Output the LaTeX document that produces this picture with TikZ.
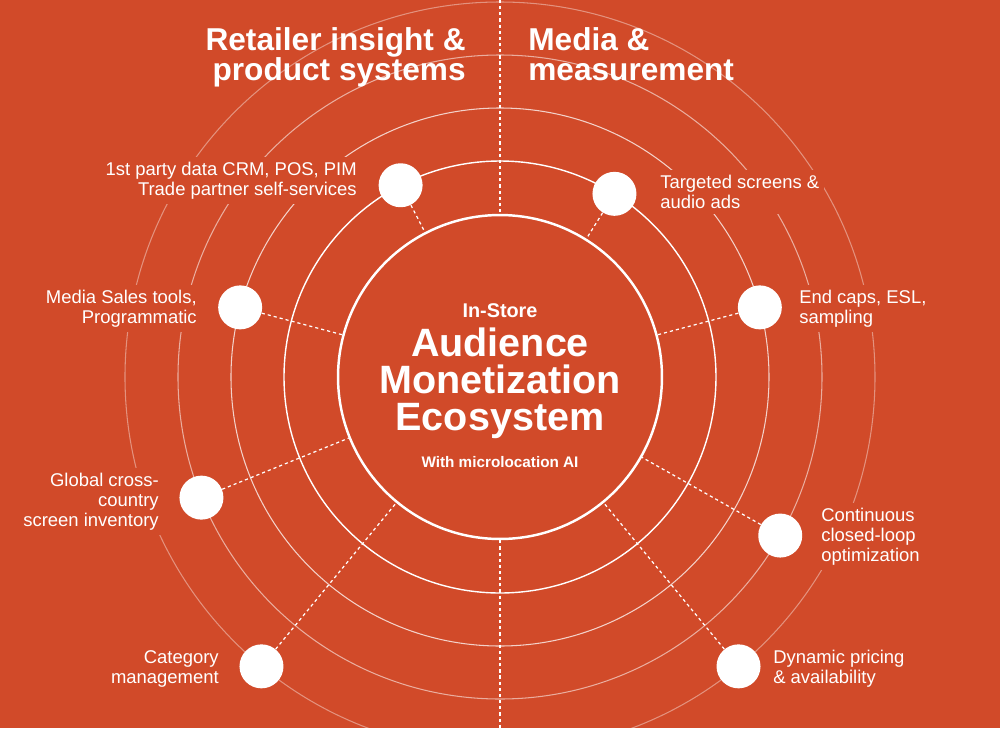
\documentclass[tikz,border=0pt]{standalone}
\usepackage{fontspec}
\setmainfont{Liberation Sans}
\usepackage{tikz}
\usetikzlibrary{positioning}
\definecolor{bgOrange}{HTML}{D14A29}
\colorlet{ringwhite}{white}

\begin{document}
\begin{tikzpicture}[x=0.02cm, y=0.02cm,
    dot/.style={circle, fill=white, minimum size=0.88cm, inner sep=0pt},
    lbl/.style={fill=bgOrange, text=white, inner sep=2.8pt, font=\fontsize{10.5}{11.3}\selectfont},
    link/.style={white, line width=0.7pt, dash pattern=on 1.8pt off 1.7pt},
    ttl/.style={text=white, inner sep=0pt, font=\bfseries\fontsize{18}{17}\selectfont}]
  % background and frame
  \fill[bgOrange] (-500, -351) rectangle (500, 377);
  \useasboundingbox (-500, -351) rectangle (500, 377);
  \clip (-500, -351) rectangle (500, 377);
  % rings
  \foreach \r/\o/\w in {216/1/0.8pt, 269/0.75/0.6pt, 322/0.55/0.6pt, 375/0.4/0.6pt} {
    \draw[ringwhite, opacity=\o, line width=\w] (0, 0) circle (\r);
  }
  % labels
  \node[lbl, anchor=north east, align=right] (l1) at (-138, 220) {1st party data CRM, POS, PIM\\Trade partner self-services};
  \node[lbl, anchor=north east, align=right] (l2) at (-298, 92) {Media Sales tools,\\Programmatic};
  \node[lbl, anchor=north east, align=right] (l3) at (-336, -91) {Global cross-\\country\\screen inventory};
  \node[lbl, anchor=north east, align=right] (l4) at (-276, -268) {Category\\management};
  \node[lbl, anchor=north west, align=left] (l5) at (155, 207) {Targeted screens \&\\audio ads};
  \node[lbl, anchor=north west, align=left] (l6) at (294, 92) {End caps, ESL,\\sampling};
  \node[lbl, anchor=north west, align=left] (l7) at (316, -126) {Continuous\\closed-loop\\optimization};
  \node[lbl, anchor=north west, align=left] (l8) at (268, -268) {Dynamic pricing\\\& availability};
  % hub
  \node[circle, draw=white, line width=1.4pt, minimum size=6.48cm, inner sep=0pt] (hub) at (0, 0) {};
  \coordinate (top) at (0, 377);
  \coordinate (bot) at (0, -351);
  \draw[link] (top) -- (hub.north);
  \draw[link] (hub.south) -- (bot);
  % dots
  \node[dot] (d1) at (117.4:216) {};
  \node[dot] (d2) at (165:269) {};
  \node[dot] (d3) at (202:322) {};
  \node[dot] (d4) at (230.5:375) {};
  \node[dot] (d5) at (58:216) {};
  \node[dot] (d6) at (15:269) {};
  \node[dot] (d7) at (-29.5:322) {};
  \node[dot] (d8) at (-50.5:375) {};
  \foreach \d in {d1, d2, d3, d4, d5, d6, d7, d8} {
    \draw[link] (\d) -- (hub);
  }
  % hub text
  \node[text=white, anchor=base, font=\bfseries\fontsize{11.3}{11.3}\selectfont] (instore) at (0, 60) {In-Store};
  \node[text=white, anchor=base, font=\bfseries\fontsize{22.5}{22}\selectfont] (aud) at (0, 21) {Audience};
  \node[text=white, anchor=base, font=\bfseries\fontsize{22.5}{22}\selectfont] (mon) at (0, -16) {Monetization};
  \node[text=white, anchor=base, font=\bfseries\fontsize{22.5}{22}\selectfont] (eco) at (0, -53) {Ecosystem};
  \node[text=white, anchor=base, font=\bfseries\fontsize{8.7}{8.7}\selectfont] (ai) at (0, -90) {With microlocation AI};
  % titles
  \node[ttl, anchor=north east, align=right] (retail) at (-34, 350) {Retailer insight \&\\product systems};
  \node[ttl, anchor=north west, align=left] (media) at (28, 350) {Media \&\\measurement};
\end{tikzpicture}
\end{document}
